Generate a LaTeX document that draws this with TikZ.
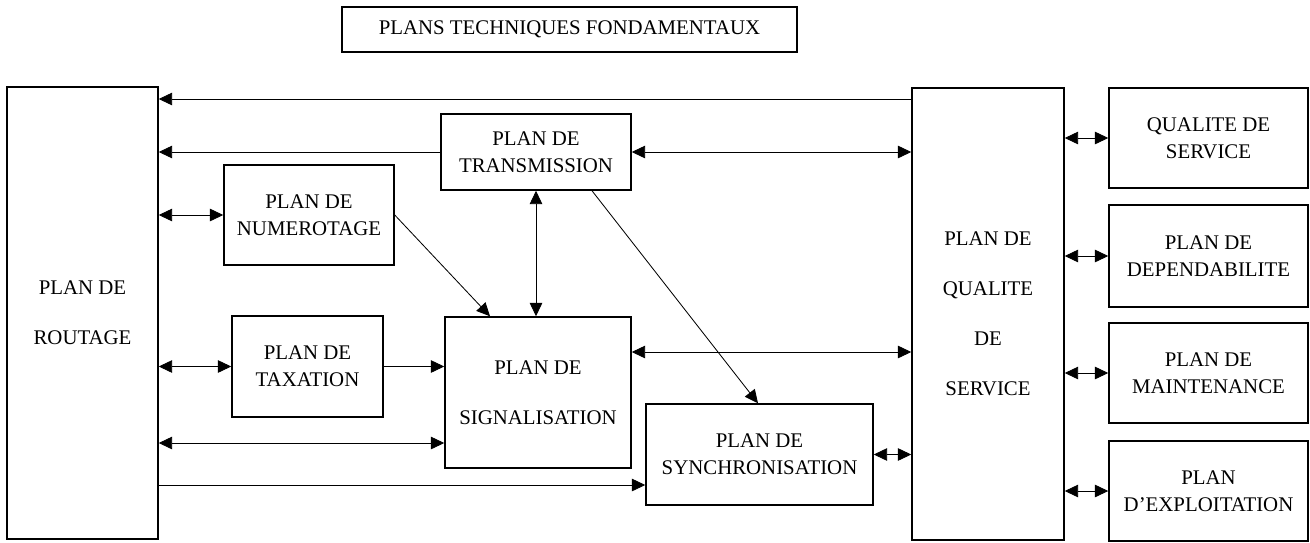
\documentclass[tikz,border=0pt]{standalone}
\usepackage{fontspec}
\setmainfont{Liberation Serif}
\usetikzlibrary{arrows.meta}

\begin{document}
\begin{tikzpicture}[x=0.6pt, y=-0.6pt, bloc/.style 2 args={draw, line width=0.9pt, minimum width=#1*0.6pt,
		minimum height=#2*0.6pt, inner sep=0pt, align=center, font=\fontsize{12.5}{16}\selectfont},
	fl/.style={line width=0.5pt, >={Triangle[length=8pt,width=7.5pt]}}]
	\useasboundingbox (0,0) rectangle (1310,542);
	\node[bloc={455}{45}] (titre) at (569.5, 29.5) {PLANS TECHNIQUES FONDAMENTAUX};
	\node[bloc={151}{452}] (rout) at (82.5, 313) {PLAN DE\\[14pt]ROUTAGE};
	\node[bloc={170}{100}] (num) at (309, 215) {PLAN DE\\NUMEROTAGE};
	\node[bloc={190}{76}] (trans) at (536, 152) {PLAN DE\\TRANSMISSION};
	\node[bloc={151}{101}] (tax) at (307.5, 366.5) {PLAN DE\\TAXATION};
	\node[bloc={186}{151}] (sig) at (538, 392.5) {PLAN DE\\[14pt]SIGNALISATION};
	\node[bloc={227}{101}] (sync) at (759.5, 454.5) {PLAN DE\\SYNCHRONISATION};
	\node[bloc={152}{452}] (qual) at (988, 314) {PLAN DE\\[14pt]QUALITE\\[14pt]DE\\[14pt]SERVICE};
	\node[bloc={199}{100}] (qs) at (1208.5, 138) {QUALITE DE\\SERVICE};
	\node[bloc={199}{102}] (dep) at (1208.5, 256) {PLAN DE\\DEPENDABILITE};
	\node[bloc={199}{100}] (maint) at (1208.5, 373) {PLAN DE\\MAINTENANCE};
	\node[bloc={199}{100}] (expl) at (1208.5, 491) {PLAN\\D’EXPLOITATION};
	% vers le plan de routage
	\draw[fl,->] (qual.west |- 0,99) -- (rout.east |- 0,99);
	\draw[fl,->] (trans.west) -- (trans.west -| rout.east);
	\draw[fl,<->] (num.west) -- (num.west -| rout.east);
	\draw[fl,<->] (tax.west) -- (tax.west -| rout.east);
	\draw[fl,<->] (rout.east |- 0,443) -- (sig.west |- 0,443);
	\draw[fl,->] (rout.east |- 0,485) -- (sync.west |- 0,485);
	% plans du milieu
	\draw[fl,<->] (trans.east) -- (trans.east -| qual.west);
	\draw[fl,->] (num.east) -- (sig.north -| 490,0);
	\draw[fl,<->] (trans.south) -- (trans.south |- sig.north);
	\draw[fl,->] (trans.south -| 592,0) -- (sync.north -| 758,0);
	\draw[fl,->] (tax.east) -- (tax.east -| sig.west);
	\draw[fl,<->] (sig.east |- 0,352) -- (qual.west |- 0,352);
	\draw[fl,<->] (sync.east) -- (sync.east -| qual.west);
	% qualite de service
	\foreach \b in {qs, dep, maint, expl}
		\draw[fl,<->] (\b.west) -- (\b.west -| qual.east);
\end{tikzpicture}
\end{document}
